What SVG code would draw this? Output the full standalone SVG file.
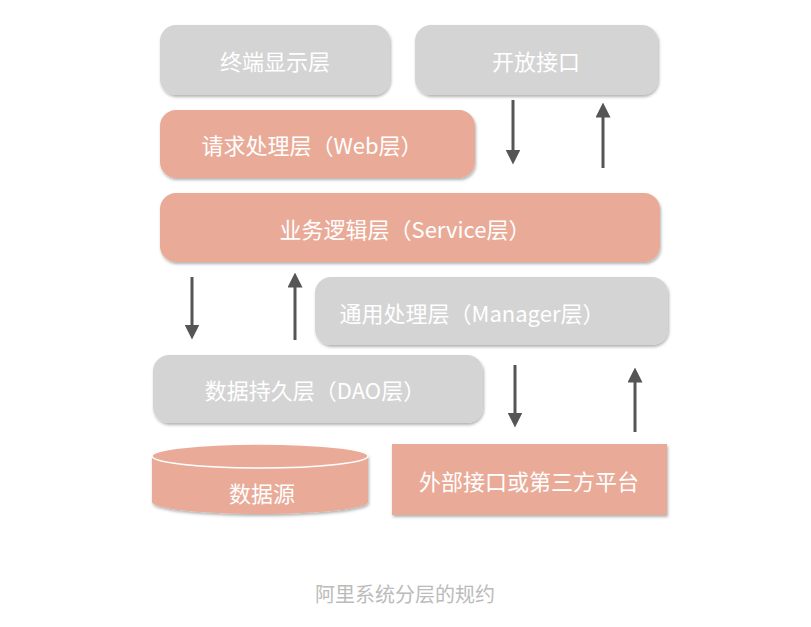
<svg xmlns="http://www.w3.org/2000/svg" width="811" height="627" viewBox="0 0 811 627">
<defs>
<marker id="ah" markerWidth="5" markerHeight="5" refX="2.5" refY="2.5" orient="auto" markerUnits="strokeWidth"><path d="M0,0 L5,2.5 L0,5 z" fill="#555"/></marker>
<filter id="sh" x="-5%" y="-10%" width="110%" height="130%"><feDropShadow dx="1" dy="2" stdDeviation="1.5" flood-color="#000" flood-opacity="0.3"/></filter>
</defs>
<style>
.g{fill:#D4D4D4;filter:url(#sh)}
.r{fill:#E9AB98;filter:url(#sh)}
text{font-family:"Noto Sans CJK SC","Noto Sans",sans-serif;fill:#fff;font-size:22px;text-anchor:middle;dominant-baseline:central}
.c{stroke:#555;stroke-width:3;fill:none;marker-end:url(#ah)}
</style>
<rect width="811" height="627" fill="#fff"/>
<g id="n1"><rect class="g" x="160" y="25" width="230" height="70" rx="16"/><text x="275" y="60">终端显示层</text></g>
<g id="n2"><rect class="g" x="415" y="25" width="243" height="70" rx="16"/><text x="536" y="60">开放接口</text></g>
<g id="n3"><rect class="r" x="160" y="110" width="315" height="68" rx="16"/><text x="312" y="144">请求处理层（Web层）</text></g>
<g id="n4"><rect class="r" x="160" y="193" width="500" height="69" rx="16"/><text x="405" y="228">业务逻辑层（Service层）</text></g>
<g id="n5"><rect class="g" x="315" y="277" width="353" height="68" rx="16"/><text x="472" y="312">通用处理层（Manager层）</text></g>
<g id="n6"><rect class="g" x="153" y="355" width="330" height="68" rx="16"/><text x="315" y="389">数据持久层（DAO层）</text></g>
<g id="n7"><path class="r" d="M152,456 A108,12 0 0 1 368,456 L368,502 A108,12 0 0 1 152,502 Z"/><ellipse cx="260" cy="456" rx="108" ry="12" fill="#E9AB98" stroke="#fff" stroke-width="1.5"/><text x="262" y="492">数据源</text></g>
<g id="n8"><rect class="r" x="392" y="444" width="275" height="71"/><text x="529" y="480">外部接口或第三方平台</text></g>
<g id="connectors">
<line class="c" x1="513" y1="100" x2="513" y2="157"/>
<line class="c" x1="603" y1="168" x2="603" y2="110"/>
<line class="c" x1="192" y1="277" x2="192" y2="332"/>
<line class="c" x1="295" y1="340" x2="295" y2="280"/>
<line class="c" x1="515" y1="365" x2="515" y2="420"/>
<line class="c" x1="635" y1="432" x2="635" y2="375"/>
</g>
<text x="405" y="593" style="fill:#bbb;font-size:20px">阿里系统分层的规约</text>
</svg>
